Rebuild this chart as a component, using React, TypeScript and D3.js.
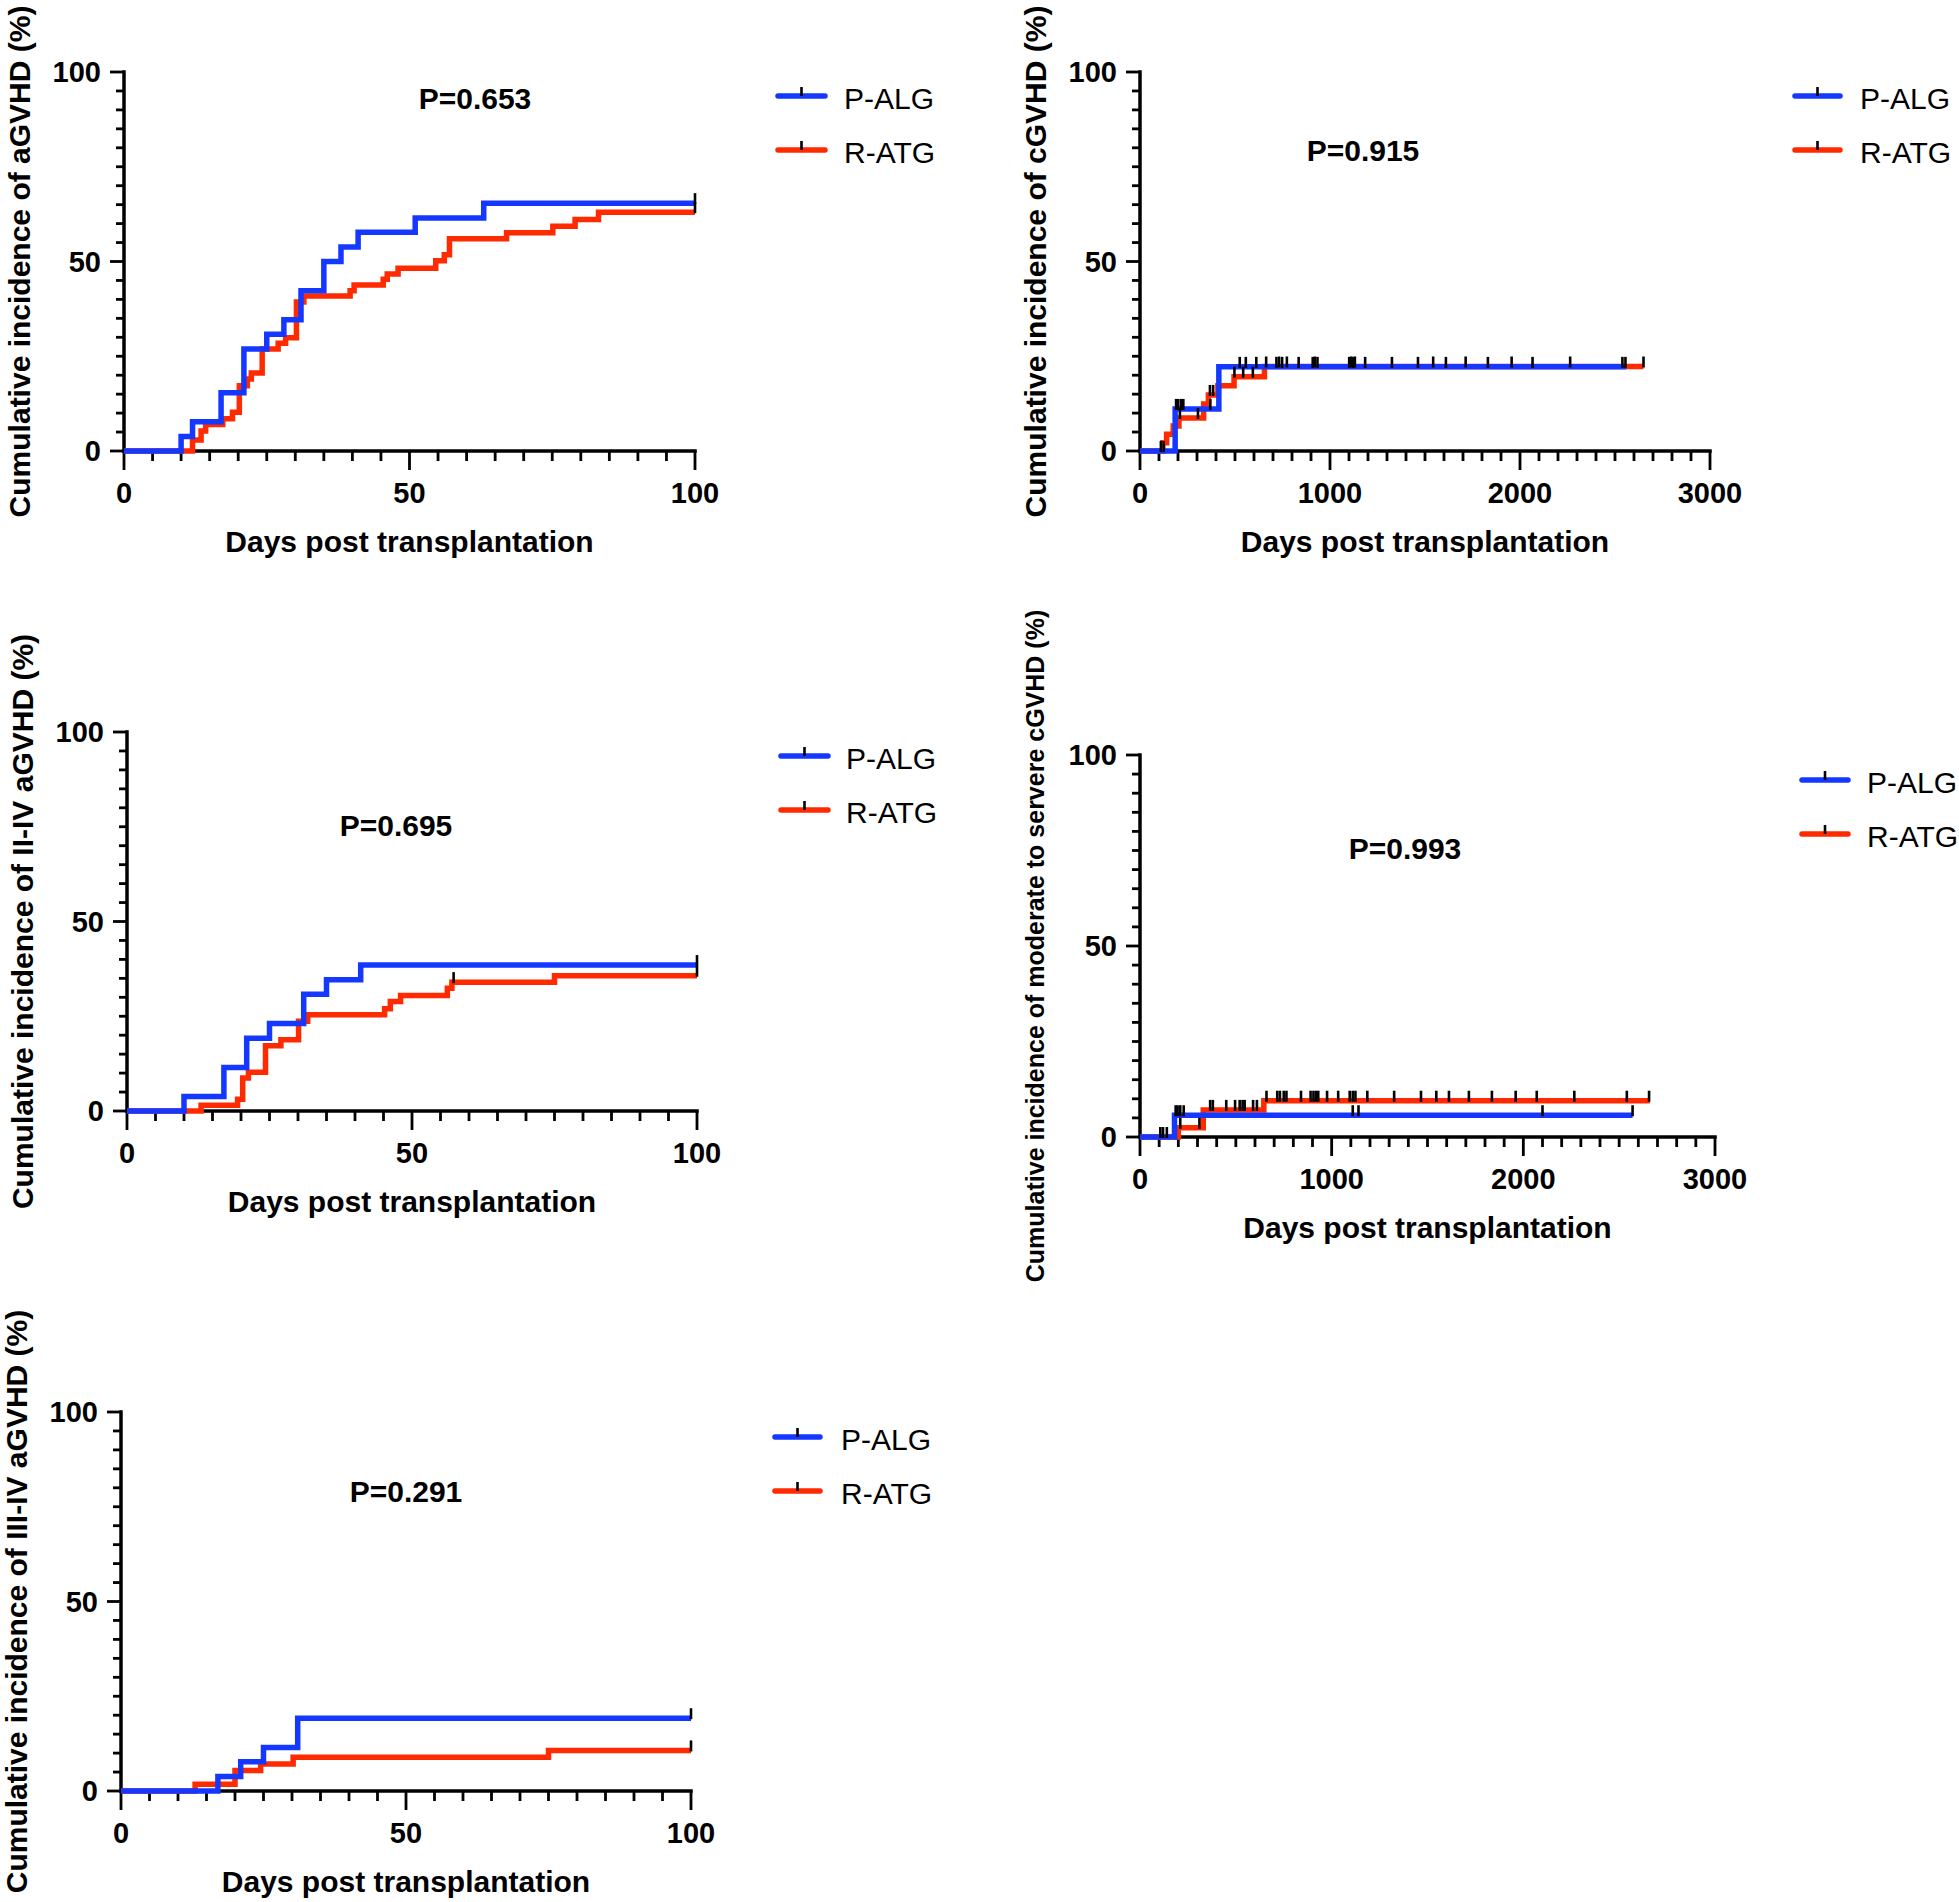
import React from "react";
import * as d3 from "d3";

// ---------- shared labels ----------
const groupNames = ["P-ALG", "R-ATG"];
const groupColors = ["#1438ff", "#ff2a00"];
const xTitle = "Days post transplantation";
const yTickLabels = [0, 50, 100];
const xTickLabelsShort = [0, 50, 100];
const xTickLabelsLong = [0, 1000, 2000, 3000];

// ---------- panel 1: aGVHD ----------
const p1Title = "Cumulative incidence of aGVHD (%)";
const p1P = "P=0.653";
const p1PalgDays = [0, 10, 12, 17, 21, 25, 28, 31, 35, 38, 41, 51, 63, 100];
const p1PalgVals = [0, 3.8, 7.7, 15.4, 26.9, 30.8, 34.6, 42.3, 50, 53.8, 57.7, 61.5, 65.4, 65.4];
const p1RatgDays = [0, 12, 13.5, 14.3, 17.3, 19, 20.2, 21.6, 22.3, 24.2, 27, 28.3, 30.2, 31.5, 39.6, 40.3, 45.4, 46.1, 48, 54.6, 56.1, 57, 67, 75.1, 79, 83.1, 100];
const p1RatgVals = [0, 2.9, 5.3, 7.0, 8.5, 10.2, 17.2, 19.0, 20.6, 26.9, 28.4, 29.9, 39.3, 40.9, 42.3, 43.8, 45.3, 46.7, 48.2, 50.2, 51.8, 56.0, 57.6, 59.3, 61.1, 63.0, 63.0];
const p1PalgCens = [100];
const p1RatgCens = [100];

// ---------- panel 2: cGVHD ----------
const p2Title = "Cumulative incidence of cGVHD (%)";
const p2P = "P=0.915";
const p2PalgDays = [0, 185, 415, 2560];
const p2PalgVals = [0, 11.1, 22.2, 22.2];
const p2RatgDays = [0, 120, 140, 175, 205, 335, 360, 410, 495, 655, 2650];
const p2RatgVals = [0, 2.2, 4.4, 6.6, 8.7, 12.4, 14.8, 17.2, 19.6, 22.3, 22.3];
const p2PalgCens = [110, 125, 190, 200, 215, 228, 370, 525, 557, 612, 718, 748, 835, 909, 934, 1101, 1121, 1185, 1326, 1463, 1610, 1831, 2066, 2539, 2555];
const p2RatgCens = [210, 305, 368, 385, 497, 543, 594, 664, 732, 773, 920, 1111, 1131, 1543, 1714, 1956, 2264, 2650];

// ---------- panel 3: II-IV aGVHD ----------
const p3Title = "Cumulative incidence of II-IV aGVHD (%)";
const p3P = "P=0.695";
const p3PalgDays = [0, 10, 17, 21, 25, 31, 35, 41, 100];
const p3PalgVals = [0, 3.8, 11.5, 19.2, 23.1, 30.8, 34.6, 38.5, 38.5];
const p3RatgDays = [0, 13, 19.4, 20.3, 21.3, 24.3, 27, 30.1, 31.7, 45.2, 46.2, 48, 56.2, 57, 75, 100];
const p3RatgVals = [0, 1.5, 3.1, 8.7, 10.2, 17.2, 18.8, 23.7, 25.4, 27.0, 28.9, 30.5, 32.4, 34.0, 35.7, 35.7];
const p3PalgCens = [100];
const p3RatgCens = [57.3, 100];

// ---------- panel 4: moderate to severe cGVHD ----------
const p4Title = "Cumulative incidence of moderate to servere cGVHD (%)";
const p4P = "P=0.993";
const p4PalgDays = [0, 180, 2570];
const p4PalgVals = [0, 5.7, 5.7];
const p4RatgDays = [0, 200, 330, 646, 2660];
const p4RatgVals = [0, 2.4, 7.1, 9.5, 9.5];
const p4PalgCens = [106, 120, 140, 186, 196, 210, 228, 1110, 1140, 2100, 2570];
const p4RatgCens = [210, 310, 366, 380, 450, 496, 520, 535, 546, 590, 610, 660, 716, 730, 750, 764, 840, 890, 905, 918, 930, 976, 1034, 1094, 1110, 1124, 1186, 1326, 1466, 1546, 1612, 1716, 1836, 1960, 2070, 2266, 2540, 2656];

// ---------- panel 5: III-IV aGVHD ----------
const p5Title = "Cumulative incidence of III-IV aGVHD (%)";
const p5P = "P=0.291";
const p5PalgDays = [0, 17, 21, 25, 31, 100];
const p5PalgVals = [0, 3.8, 7.7, 11.5, 19.2, 19.2];
const p5RatgDays = [0, 13, 20, 24.5, 30.2, 75, 100];
const p5RatgVals = [0, 1.8, 5.4, 7.1, 8.9, 10.7, 10.7];
const p5PalgCens = [100];
const p5RatgCens = [100];

type Series = { days: number[]; vals: number[]; cens: number[] };

type PanelCfg = {
  title: string;
  titleSize: number;
  p: string;
  pX: number;
  pY: number;
  xMax: number;
  minorStep: number;
  xLabels: number[];
  left: number;
  right: number;
  top: number;
  bottom: number;
  legX1: number;
  legX2: number;
  legText: number;
  legY: number[];
  series: Series[];
};

const panels: PanelCfg[] = [
  {
    title: p1Title, titleSize: 30, p: p1P, pX: 475, pY: 98, xMax: 100, minorStep: 5, xLabels: xTickLabelsShort,
    left: 124, right: 695, top: 72, bottom: 451,
    legX1: 778, legX2: 825, legText: 844, legY: [96, 150],
    series: [
      { days: p1PalgDays, vals: p1PalgVals, cens: p1PalgCens },
      { days: p1RatgDays, vals: p1RatgVals, cens: p1RatgCens },
    ],
  },
  {
    title: p2Title, titleSize: 30, p: p2P, pX: 1363, pY: 150, xMax: 3000, minorStep: 100, xLabels: xTickLabelsLong,
    left: 1140, right: 1710, top: 72, bottom: 451,
    legX1: 1795, legX2: 1840, legText: 1860, legY: [96, 150],
    series: [
      { days: p2PalgDays, vals: p2PalgVals, cens: p2PalgCens },
      { days: p2RatgDays, vals: p2RatgVals, cens: p2RatgCens },
    ],
  },
  {
    title: p3Title, titleSize: 30, p: p3P, pX: 396, pY: 825, xMax: 100, minorStep: 5, xLabels: xTickLabelsShort,
    left: 127, right: 697, top: 732, bottom: 1111,
    legX1: 781, legX2: 828, legText: 846, legY: [756, 810],
    series: [
      { days: p3PalgDays, vals: p3PalgVals, cens: p3PalgCens },
      { days: p3RatgDays, vals: p3RatgVals, cens: p3RatgCens },
    ],
  },
  {
    title: p4Title, titleSize: 25, p: p4P, pX: 1405, pY: 848, xMax: 3000, minorStep: 100, xLabels: xTickLabelsLong,
    left: 1140, right: 1715, top: 755, bottom: 1137,
    legX1: 1802, legX2: 1848, legText: 1867, legY: [780, 834],
    series: [
      { days: p4PalgDays, vals: p4PalgVals, cens: p4PalgCens },
      { days: p4RatgDays, vals: p4RatgVals, cens: p4RatgCens },
    ],
  },
  {
    title: p5Title, titleSize: 30, p: p5P, pX: 406, pY: 1491, xMax: 100, minorStep: 5, xLabels: xTickLabelsShort,
    left: 121, right: 691, top: 1412, bottom: 1791,
    legX1: 775, legX2: 820, legText: 841, legY: [1437, 1491],
    series: [
      { days: p5PalgDays, vals: p5PalgVals, cens: p5PalgCens },
      { days: p5RatgDays, vals: p5RatgVals, cens: p5RatgCens },
    ],
  },
];

const FONT = "'Liberation Sans', Arial, Helvetica, sans-serif";
const AXIS_W = 3.5;
const CURVE_W = 5.5;

function valueAt(s: Series, t: number): number {
  let v = s.vals[0];
  for (let i = 0; i < s.days.length; i++) {
    if (s.days[i] <= t + 1e-9) v = s.vals[i];
  }
  return v;
}

function Panel({ cfg }: { cfg: PanelCfg }) {
  const x = d3.scaleLinear().domain([0, cfg.xMax]).range([cfg.left, cfg.right]);
  const y = d3.scaleLinear().domain([0, 100]).range([cfg.bottom, cfg.top]);
  const line = d3
    .line<[number, number]>()
    .x((d) => x(d[0]))
    .y((d) => y(d[1]))
    .curve(d3.curveStepAfter);

  const xMinor = d3.range(0, cfg.xMax + cfg.minorStep / 2, cfg.minorStep);
  const yMinor = d3.range(0, 100 + 2.5, 5);
  const cx = (cfg.left + cfg.right) / 2;
  const cy = (cfg.top + cfg.bottom) / 2;
  const order = [1, 0];

  return (
    <g>
      {/* axes */}
      <line x1={cfg.left} y1={cfg.top} x2={cfg.left} y2={cfg.bottom} stroke="#000" strokeWidth={AXIS_W} strokeLinecap="square" />
      <line x1={cfg.left} y1={cfg.bottom} x2={cfg.right} y2={cfg.bottom} stroke="#000" strokeWidth={AXIS_W} strokeLinecap="square" />
      {yMinor.map((v) => {
        const major = v % 50 === 0;
        return (
          <line key={"yt" + v} x1={cfg.left - (major ? 14 : 8)} x2={cfg.left} y1={y(v)} y2={y(v)} stroke="#000" strokeWidth={2.8} />
        );
      })}
      {xMinor.map((v) => {
        const major = cfg.xLabels.includes(v);
        return (
          <line key={"xt" + v} x1={x(v)} x2={x(v)} y1={cfg.bottom} y2={cfg.bottom + (major ? 19 : 10)} stroke="#000" strokeWidth={2.8} />
        );
      })}
      {yTickLabels.map((v) => (
        <text key={"yl" + v} x={cfg.left - 23} y={y(v)} textAnchor="end" dominantBaseline="central" fontFamily={FONT} fontWeight="bold" fontSize={29}>
          {v}
        </text>
      ))}
      {cfg.xLabels.map((v) => (
        <text key={"xl" + v} x={x(v)} y={cfg.bottom + 42} textAnchor="middle" dominantBaseline="central" fontFamily={FONT} fontWeight="bold" fontSize={29}>
          {v}
        </text>
      ))}
      <text x={cx} y={cfg.bottom + 90} textAnchor="middle" dominantBaseline="central" fontFamily={FONT} fontWeight="bold" fontSize={30}>
        {xTitle}
      </text>
      <text
        transform={`translate(${cfg.left - 105},${cy}) rotate(-90)`}
        textAnchor="middle"
        dominantBaseline="central"
        fontFamily={FONT}
        fontWeight="bold"
        fontSize={cfg.titleSize}
      >
        {cfg.title}
      </text>
      <text x={cfg.pX} y={cfg.pY} textAnchor="middle" dominantBaseline="central" fontFamily={FONT} fontWeight="bold" fontSize={30}>
        {cfg.p}
      </text>

      {/* curves */}
      {order.map((gi) => {
        const s = cfg.series[gi];
        const pts: [number, number][] = s.days.map((d, i) => [d, s.vals[i]]);
        return <path key={"c" + gi} d={line(pts) || ""} fill="none" stroke={groupColors[gi]} strokeWidth={CURVE_W} strokeLinejoin="miter" strokeLinecap="butt" />;
      })}
      {order.map((gi) => {
        const s = cfg.series[gi];
        return (
          <g key={"cens" + gi}>
            {s.cens.map((t, k) => {
              const yy = y(valueAt(s, t));
              return <line key={k} x1={x(t)} x2={x(t)} y1={yy - 10} y2={yy + 1} stroke="#000" strokeWidth={2.6} />;
            })}
          </g>
        );
      })}

      {/* legend */}
      {groupNames.map((name, gi) => (
        <g key={"lg" + gi}>
          <line x1={cfg.legX1} x2={cfg.legX2} y1={cfg.legY[gi]} y2={cfg.legY[gi]} stroke={groupColors[gi]} strokeWidth={CURVE_W} strokeLinecap="round" />
          <line x1={(cfg.legX1 + cfg.legX2) / 2} x2={(cfg.legX1 + cfg.legX2) / 2} y1={cfg.legY[gi] - 9} y2={cfg.legY[gi]} stroke="#000" strokeWidth={2.6} />
          <text x={cfg.legText} y={cfg.legY[gi] + 2} dominantBaseline="central" fontFamily={FONT} fontSize={30}>
            {name}
          </text>
        </g>
      ))}
    </g>
  );
}

export default function App() {
  return (
    <svg
      width={1959}
      height={1902}
      viewBox="0 0 1959 1902"
      style={{ position: "absolute", left: 0, top: 0, background: "#fff" }}
    >
      <rect x={0} y={0} width={1959} height={1902} fill="#fff" />
      {panels.map((p, i) => (
        <Panel key={i} cfg={p} />
      ))}
    </svg>
  );
}
